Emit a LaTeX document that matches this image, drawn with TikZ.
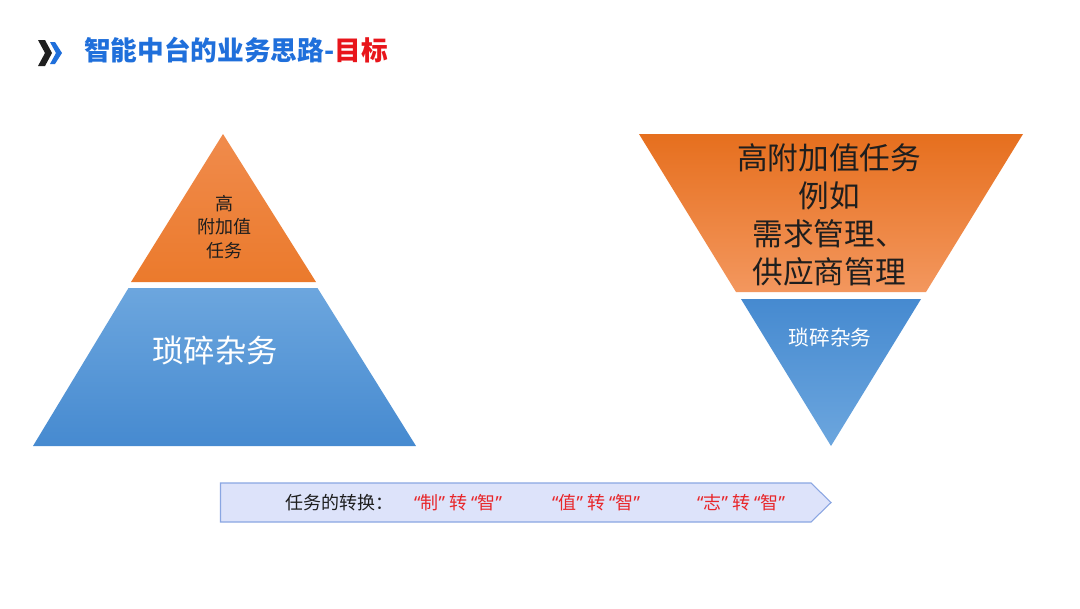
\documentclass[tikz,border=0pt]{standalone}
\usepackage{fontspec}
\setmainfont{Noto Sans CJK SC}
\newfontfamily\qf{Noto Sans}
\definecolor{titleblue}{HTML}{1F6FDB}
\definecolor{titlered}{HTML}{E8151B}
\definecolor{orA}{HTML}{F08B4C}
\definecolor{orB}{HTML}{EB7A2C}
\definecolor{orC}{HTML}{E66F1E}
\definecolor{orD}{HTML}{F3975E}
\definecolor{blA}{HTML}{6CA6DE}
\definecolor{blB}{HTML}{468AD0}
\definecolor{boxfill}{HTML}{DDE3FA}
\definecolor{boxline}{HTML}{8AA6E2}
\definecolor{qred}{HTML}{E8262A}
\definecolor{txt}{HTML}{1E1E1E}
\newcommand{\myql}{{\qf “}}
\newcommand{\myqr}{{\qf ”}}
\begin{document}
\begin{tikzpicture}[x=0.75pt,y=-0.75pt,
  lbl/.style={inner sep=0pt,align=center,text=txt},
  wlbl/.style={inner sep=0pt,align=center,text=white},
  redlbl/.style={inner sep=0pt,text=qred,font=\fontsize{13.5}{16}\selectfont}]
\useasboundingbox (0,0) rectangle (1080,608);
\fill[white] (0,0) rectangle (1080,608);
% title icon
\fill[black!88] (38,40) -- (45,40) -- (52,53) -- (45,66) -- (38,66) -- (45,53) -- cycle;
\fill[titleblue] (50,42) -- (55,42) -- (62,53) -- (55,64) -- (50,64) -- (56,53) -- cycle;
\node[anchor=west,inner sep=0pt,font=\bfseries\fontsize{20}{24}\selectfont] (title) at (84,50)
  {\textcolor{titleblue}{智能中台的业务思路-}\textcolor{titlered}{目标}};
% left pyramid
\shade[top color=orA,bottom color=orB] (223,134) -- (316,282) -- (131,282) -- cycle;
\shade[top color=blA,bottom color=blB] (128.5,288) -- (317.5,288) -- (416,446) -- (33,446) -- cycle;
\node[lbl,font=\fontsize{13.5}{17.6}\selectfont] (ltop) at (224,227) {高\\附加值\\任务};
\node[wlbl,font=\fontsize{23.5}{28}\selectfont] (lbot) at (215,350) {琐碎杂务};
% right inverted pyramid
\shade[top color=orC,bottom color=orD] (639,134) -- (1023,134) -- (926,292) -- (736,292) -- cycle;
\shade[top color=blB,bottom color=blA] (741,299) -- (921,299) -- (831,446) -- cycle;
\node[lbl,font=\fontsize{23}{28.5}\selectfont] (rtop) at (829,215) {高附加值任务\\例如\\需求管理、\\供应商管理};
\node[wlbl,font=\fontsize{15.5}{18}\selectfont] (rbot) at (830,338) {琐碎杂务};
% bottom arrow box
\draw[boxline,fill=boxfill,line width=0.8pt] (220.5,483) -- (811,483) -- (831,502.5) -- (811,522) -- (220.5,522) -- cycle;
\node[lbl,font=\fontsize{13.5}{16}\selectfont] (conv) at (339,503) {任务的转换：};
\node[redlbl] (g1) at (458,503) {\myql 制\myqr\ 转 \myql 智\myqr};
\node[redlbl] (g2) at (596,503) {\myql 值\myqr\ 转 \myql 智\myqr};
\node[redlbl] (g3) at (741,503) {\myql 志\myqr\ 转 \myql 智\myqr};
\end{tikzpicture}
\end{document}
